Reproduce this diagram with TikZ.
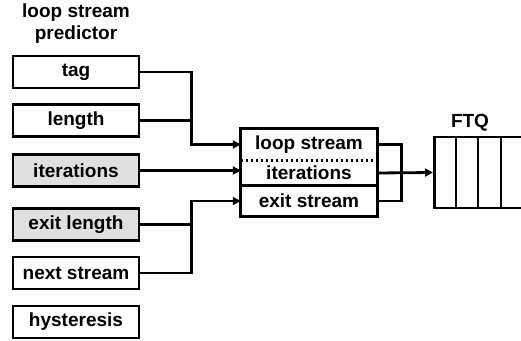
\documentclass[tikz,border=0pt]{standalone}
\usepackage{fontspec}
\setmainfont{Liberation Sans}
\usetikzlibrary{arrows.meta}
\begin{document}
\begin{tikzpicture}[x=1pt,y=-1pt,
  every node/.style={font=\fontsize{19}{22}\selectfont\bfseries},
  field/.style={draw,line width=2.8pt,minimum width=126pt,minimum height=32pt,inner sep=0pt},
  shaded/.style={field,fill=black!12},
  cell/.style={minimum width=136pt,inner sep=0pt},
  wire/.style={line width=2.8pt},
  arr/.style={wire,-{Triangle[length=8pt,width=8pt]}}]
\useasboundingbox (0,0) rectangle (521,340);
% title
\node[align=center] (title) at (76,24) {loop stream\\predictor};
% left fields
\node[field]  (tag)   at (76,72)    {tag};
\node[field]  (len)   at (76,120.5) {length};
\node[shaded] (iter)  at (76,170.5) {iterations};
\node[shaded] (exitl) at (76,224.5) {exit length};
\node[field]  (next)  at (76,273)   {next stream};
\node[field]  (hyst)  at (76,322)   {hysteresis};
% centre box
\node[cell,minimum height=31pt] (cloop) at (309,144.5) {loop stream};
\node[cell,minimum height=26pt] (citer) at (309,173)   {iterations};
\node[cell,minimum height=30pt] (cexit) at (309,201)   {exit stream};
\draw[wire] (cloop.north west) rectangle (cexit.south east);
\draw[line width=2.8pt,dash pattern=on 2.6pt off 2.4pt] (cloop.south west) -- (cloop.south east);
\draw[wire] (cexit.north west) -- (cexit.north east);
% FTQ
\node (ftqlabel) at (470,123) {FTQ};
\node[draw,line width=2.8pt,minimum width=110pt,minimum height=71pt,inner sep=0pt,anchor=west] (ftq) at (433,172.5) {};
\foreach \dx in {23,45,68}
  \draw[wire] ([xshift=\dx pt]ftq.north west) -- ([xshift=\dx pt]ftq.south west);
% connectors left
\draw[arr] (tag.east) -- ++(51,0) coordinate (j1) |- (cloop.west);
\draw[wire] (len.east) -- (len.east -| j1);
\draw[arr] (iter.east) -- (iter.east -| citer.west);
\draw[arr] (next.east) -- ++(51,0) coordinate (j2) |- (cexit.west);
\draw[wire] (exitl.east) -- (exitl.east -| j2);
% connectors right
\draw[wire] (cloop.east) -- ++(24,0) coordinate (j3) |- (cexit.east);
\draw[arr] (citer.east) -- (ftq.west);
\end{tikzpicture}
\end{document}
